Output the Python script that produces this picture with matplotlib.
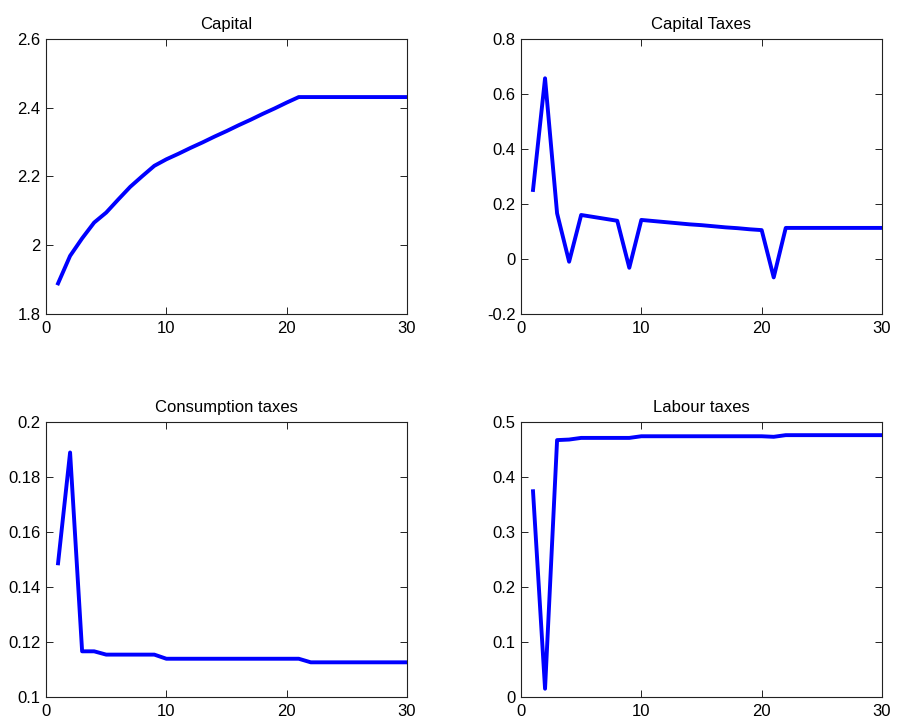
import numpy as np
import matplotlib
matplotlib.use('Agg')
import matplotlib.pyplot as plt

# periods 1..30
periods = list(range(1, 31))

capital = [1.889, 1.969, 2.020, 2.066, 2.095, 2.133, 2.170, 2.201, 2.231, 2.250,
           2.266, 2.283, 2.299, 2.316, 2.332, 2.349, 2.365, 2.382, 2.398, 2.415,
           2.431, 2.431, 2.431, 2.431, 2.431, 2.431, 2.431, 2.431, 2.431, 2.431]

capital_taxes = [0.251, 0.657, 0.166, -0.010, 0.160, 0.153, 0.146, 0.139, -0.032, 0.142,
                 0.138, 0.134, 0.130, 0.126, 0.123, 0.119, 0.115, 0.112, 0.108, 0.105,
                 -0.067, 0.113, 0.113, 0.113, 0.113, 0.113, 0.113, 0.113, 0.113, 0.113]

consumption_taxes = [0.1486, 0.1889, 0.1166, 0.1166, 0.1154, 0.1154, 0.1154, 0.1154, 0.1154, 0.1139,
                     0.1139, 0.1139, 0.1139, 0.1139, 0.1139, 0.1139, 0.1139, 0.1139, 0.1139, 0.1139,
                     0.1139, 0.1126, 0.1126, 0.1126, 0.1126, 0.1126, 0.1126, 0.1126, 0.1126, 0.1126]

labour_taxes = [0.374, 0.015, 0.467, 0.468, 0.471, 0.471, 0.471, 0.471, 0.471, 0.474,
                0.474, 0.474, 0.474, 0.474, 0.474, 0.474, 0.474, 0.474, 0.474, 0.474,
                0.473, 0.476, 0.476, 0.476, 0.476, 0.476, 0.476, 0.476, 0.476, 0.476]

titles = ['Capital', 'Capital Taxes', 'Consumption taxes', 'Labour taxes']
series = [capital, capital_taxes, consumption_taxes, labour_taxes]
ylims = [(1.8, 2.6), (-0.2, 0.8), (0.1, 0.2), (0.0, 0.5)]
yticks = [[1.8, 2.0, 2.2, 2.4, 2.6],
          [-0.2, 0, 0.2, 0.4, 0.6, 0.8],
          [0.1, 0.12, 0.14, 0.16, 0.18, 0.2],
          [0, 0.1, 0.2, 0.3, 0.4, 0.5]]
yticklabels = [['1.8', '2', '2.2', '2.4', '2.6'],
               ['-0.2', '0', '0.2', '0.4', '0.6', '0.8'],
               ['0.1', '0.12', '0.14', '0.16', '0.18', '0.2'],
               ['0', '0.1', '0.2', '0.3', '0.4', '0.5']]
xticks = [0, 10, 20, 30]

plt.rcParams['font.family'] = ['Liberation Sans', 'DejaVu Sans']

fig = plt.figure(figsize=(8.97, 7.27), dpi=100)
positions = [
    [0.0513, 0.5681, 0.4025, 0.3783],
    [0.5808, 0.5681, 0.4025, 0.3783],
    [0.0513, 0.0413, 0.4025, 0.3783],
    [0.5808, 0.0413, 0.4025, 0.3783],
]

for pos, title, vals, ylim, yt, ytl in zip(positions, titles, series, ylims, yticks, yticklabels):
    ax = fig.add_axes(pos)
    ax.plot(periods, vals, color='#0000ff', linewidth=2.8)
    ax.set_xlim(0, 30)
    ax.set_ylim(*ylim)
    ax.set_xticks(xticks)
    ax.set_xticklabels([str(t) for t in xticks])
    ax.set_yticks(yt)
    ax.set_yticklabels(ytl)
    ax.set_title(title, fontsize=12, pad=7)
    ax.tick_params(direction='in', length=5, width=0.7, top=True, right=True,
                   labelsize=12, colors='#222222', labelcolor='black')
    ax.tick_params(axis='x', pad=5)
    ax.tick_params(axis='y', pad=4)
    for sp in ax.spines.values():
        sp.set_linewidth(0.8)
        sp.set_color('#222222')

fig.savefig('out.png', dpi=100)
